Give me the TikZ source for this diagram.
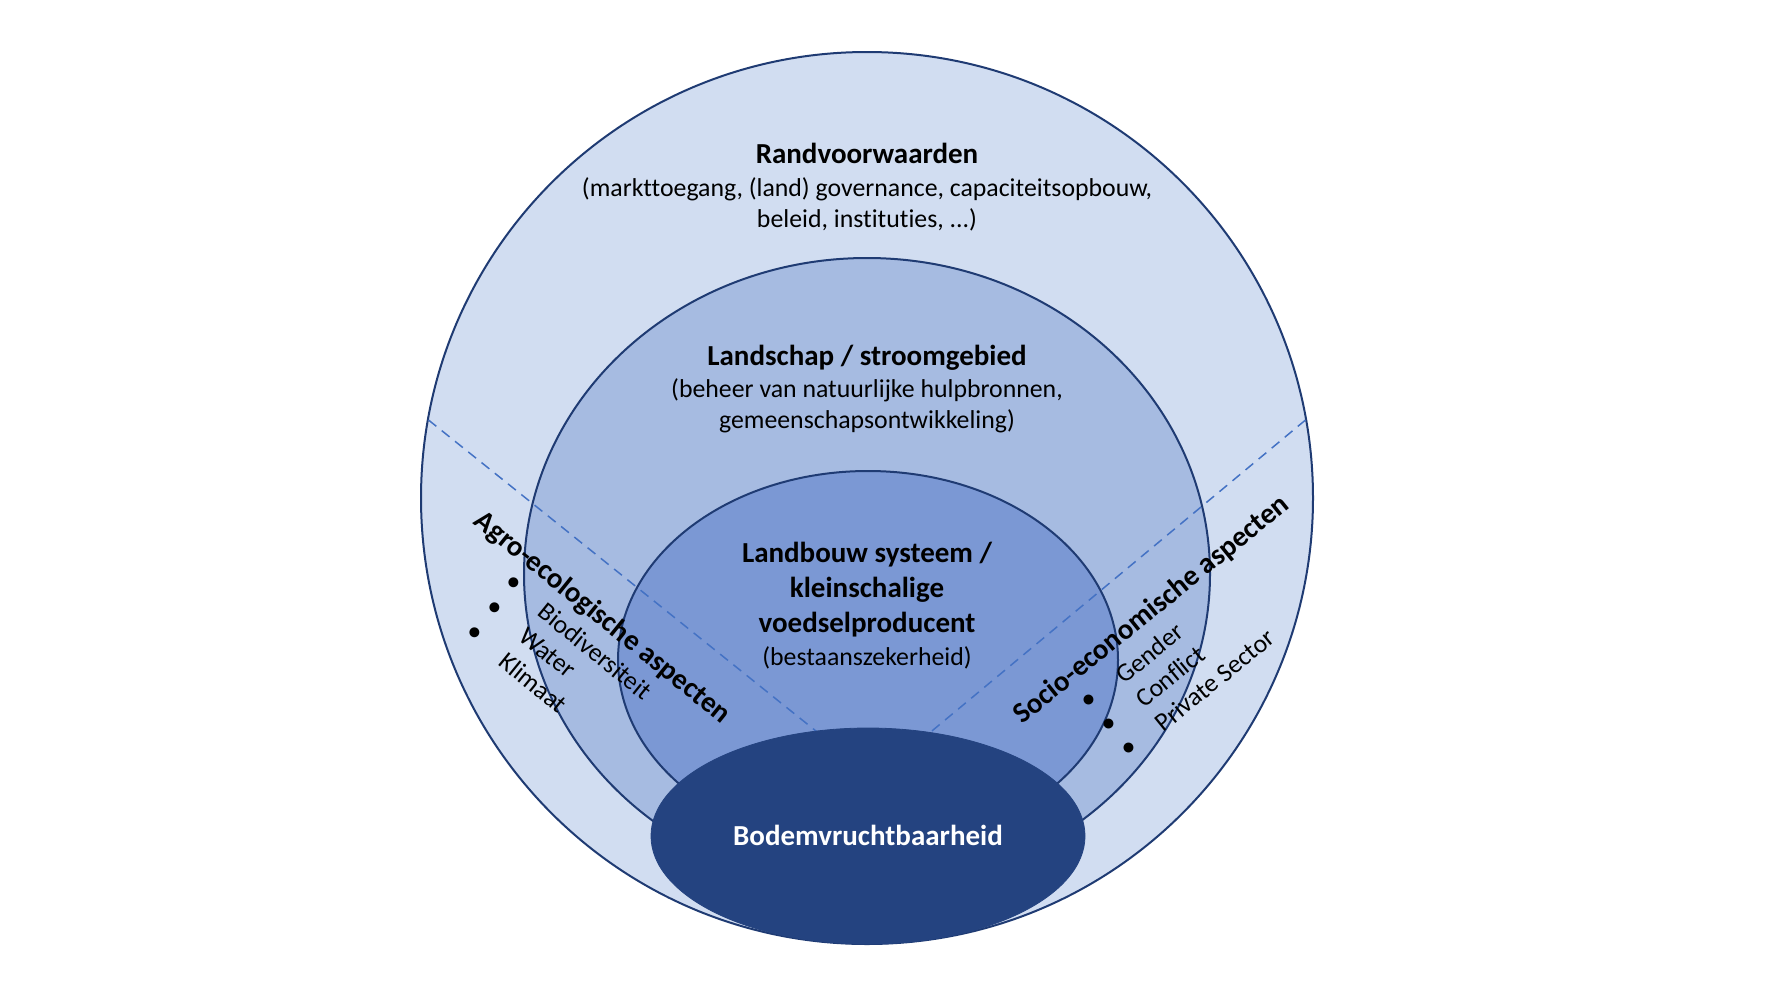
\documentclass[tikz,border=0pt]{standalone}
\usepackage{fontspec}
\setmainfont{Carlito}[Ligatures={NoCommon}]
\usetikzlibrary{shapes.geometric}
\definecolor{ringA}{HTML}{D1DDF1}
\definecolor{ringB}{HTML}{A6BBE1}
\definecolor{ringC}{HTML}{7B98D4}
\definecolor{soilcol}{HTML}{244380}
\definecolor{edgecol}{HTML}{1F3B73}
\definecolor{dashcol}{HTML}{4472C4}
\begin{document}
\begin{tikzpicture}[x=0.5pt,y=-0.5pt,
  ring/.style={ellipse, draw=edgecol, line width=1pt, inner sep=0pt},
  sector/.style={draw=dashcol, line width=0.75pt, dash pattern=on 5pt off 3.5pt},
  txt/.style={font=\fontsize{12.9}{15}\selectfont, inner sep=0pt, anchor=base},
  hd/.style={font=\fontsize{14.5}{16}\selectfont\bfseries, inner sep=0pt, anchor=base},
  rhd/.style={font=\fontsize{14.5}{16}\selectfont\bfseries, inner sep=0pt, anchor=center},
  ritem/.style={font=\fontsize{12.9}{15}\selectfont, inner sep=0pt, anchor=west},
  rbul/.style={font=\fontsize{14}{15}\selectfont, inner sep=0pt, anchor=center}]
\useasboundingbox (0,0) rectangle (1772,997);

% rings
\node[ring, fill=ringA, minimum width=446pt, minimum height=446pt] (outer) at (867,498) {};
\node[ring, fill=ringB, minimum width=343pt, minimum height=316pt] (middle) at (867,574) {};
\node[ring, fill=ringC, minimum width=250pt, minimum height=189pt] (inner) at (868,660) {};

% sector dividers
\coordinate (lstart) at (428.5,420);
\coordinate (lend) at (867,772);
\coordinate (rstart) at (1305.5,420);
\coordinate (rend) at (867,785);
\draw[sector] (lstart) -- (lend);
\draw[sector] (rstart) -- (rend);

% soil core
\node[ellipse, fill=soilcol, draw=soilcol, inner sep=0pt, minimum width=217pt, minimum height=108pt] (soil) at (868,836) {};

% texts
\node[hd] (t1) at (867,163) {Randvoorwaarden};
\node[txt] (t2) at (867,196) {(markttoegang, (land) governance, capaciteitsopbouw,};
\node[txt] (t3) at (867,227) {beleid, instituties, ...)};

\node[hd] (l1) at (867,365) {Landschap / stroomgebied};
\node[txt] (l2) at (867,397) {(beheer van natuurlijke hulpbronnen,};
\node[txt] (l3) at (867,428) {gemeenschapsontwikkeling)};

\node[hd] (f1) at (867,562) {Landbouw systeem /};
\node[hd] (f2) at (867,597) {kleinschalige};
\node[hd] (f3) at (867,632) {voedselproducent};
\node[txt] (f4) at (867,665) {(bestaanszekerheid)};

\node[hd, text=white] (s1) at (868,845) {Bodemvruchtbaarheid};

% agro-ecological sector
\node[rhd, rotate=-39] (agro) at (602,618) {Agro-ecologische aspecten};
\node[rbul, rotate=-39] (ab1) at (513,584) {\textbullet};
\node[rbul, rotate=-39] (ab2) at (493.5,609) {\textbullet};
\node[rbul, rotate=-39] (ab3) at (474,634) {\textbullet};
\node[ritem, rotate=-39] (ai1) at (541.5,607.5) {Biodiversiteit};
\node[ritem, rotate=-39] (ai2) at (522,632.5) {Water};
\node[ritem, rotate=-39] (ai3) at (502.5,657.5) {Klimaat};

% socio-economic sector
\node[rhd, rotate=39] (socio) at (1151.7,610) {Socio-economische aspecten};
\node[rbul, rotate=39] (sb1) at (1090,701) {\textbullet};
\node[rbul, rotate=39] (sb2) at (1110,725) {\textbullet};
\node[rbul, rotate=39] (sb3) at (1130,749) {\textbullet};
\node[ritem, rotate=39] (si1) at (1118.7,677.7) {Gender};
\node[ritem, rotate=39] (si2) at (1138.7,701.7) {Conflict};
\node[ritem, rotate=39] (si3) at (1158,726) {Private Sector};
\end{tikzpicture}
\end{document}
